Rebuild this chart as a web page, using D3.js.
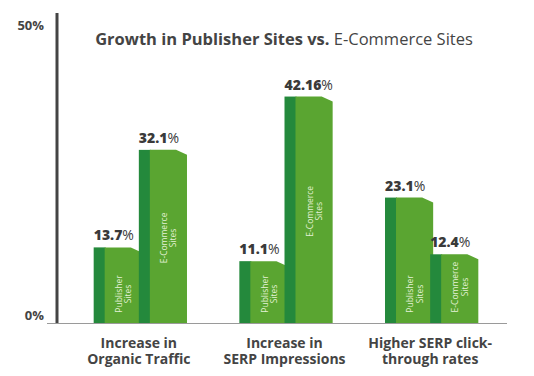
<!DOCTYPE html>
<meta charset="utf-8">
<head>
    <meta charset="utf-8">
    <title>Growth in Publisher Sites vs. E-Commerce Sites</title>
    <script src="https://d3js.org/d3.v7.min.js"></script>
    <style>
        html, body { margin: 0; padding: 0; background: #fff; }
        text { font-family: "Open Sans", sans-serif; }
        .title { font-size: 16.5px; fill: #444; }
        .val { font-size: 14px; fill: #3a3a3a; }
        .cat text { font-size: 14px; font-weight: 700; fill: #444; }
        .ylab text { font-size: 13px; font-weight: 700; fill: #444; }
        .inbar { font-size: 8.5px; fill: #e4f2d6; }
    </style>
</head>
<body>
<div id="chart"></div>
<script>
// ---- data ----
var categories = [["Increase in", "Organic Traffic"], ["Increase in", "SERP Impressions"], ["Higher SERP click-", "through rates"]];
var seriesNames = ["Publisher Sites", "E-Commerce Sites"];
var publisher = [13.7, 11.1, 23.1];
var ecommerce = [32.1, 42.16, 12.4];
var yTicks = [0, 50];

var W = 534, H = 376;
var base = 323;

var svg = d3.select("#chart").append("svg")
    .attr("width", W).attr("height", H);

// scales
var catKeys = categories.map(c => c.join(" "));
var x0 = d3.scaleBand().domain(catKeys).range([66, 503]).paddingInner(0.38).paddingOuter(0.19);
var x1 = d3.scaleBand().domain(seriesNames).range([0, x0.bandwidth()]);
var y = d3.scaleLinear().domain([0, 50]).range([base, 58]);
// label positions for the two axis ticks (infographic style)
var yLab = d3.scaleLinear().domain([0, 50]).range([315, 25]);

// title
var title = svg.append("text").attr("class", "title")
    .attr("x", 284).attr("y", 45).attr("text-anchor", "middle");
title.append("tspan").attr("font-weight", 700).text("Growth in Publisher Sites vs.");
title.append("tspan").attr("font-weight", 400).text(" E-Commerce Sites");

// y labels
svg.append("g").attr("class", "ylab")
    .attr("transform", "translate(44,0)")
    .call(d3.axisLeft(yLab).tickValues(yTicks).tickSize(0).tickPadding(0).tickFormat(d => d + "%"))
    .call(g => g.select(".domain").remove());

// bars
var rows = [];
catKeys.forEach(function(k, i) {
    rows.push({cat: k, s: seriesNames[0], v: publisher[i], idx: i});
    rows.push({cat: k, s: seriesNames[1], v: ecommerce[i], idx: i});
});

var side = 11, bw = x1.bandwidth() + 3;
var bars = svg.append("g").selectAll("g").data(rows).join("g")
    .attr("transform", d => "translate(" + (x0(d.cat) + x1(d.s)) + ",0)");

bars.append("rect")
    .attr("x", 0).attr("y", d => y(d.v) - 3)
    .attr("width", side + 1).attr("height", d => base - y(d.v) + 3)
    .attr("fill", "#24893c");

bars.append("path")
    .attr("fill", "#5aa531")
    .attr("d", function(d) {
        var t = y(d.v) - 3;
        return "M" + side + "," + t + "L" + (bw - 11) + "," + t + "L" + bw + "," + (t + 5) +
            "L" + bw + "," + base + "L" + side + "," + base + "Z";
    });

// value labels
var vl = bars.append("text").attr("class", "val")
    .attr("x", 0).attr("y", d => y(d.v) - 10);
vl.append("tspan").attr("font-weight", 800).text(d => d.v);
vl.append("tspan").attr("font-weight", 400).text("%");

// text inside bars
bars.each(function(d) {
    var g = d3.select(this);
    var words = d.s.split(" ");
    var cx = side + (bw - side) / 2;
    var len = d.s === seriesNames[0] ? 44 : 58;
    var cy = d.v > 30 ? (y(d.v) + base) / 2 : base - 7 - len / 2;
    var t = g.append("text").attr("class", "inbar")
        .attr("transform", "translate(" + cx + "," + cy + ") rotate(-90)")
        .attr("text-anchor", "middle");
    t.append("tspan").attr("x", 0).attr("dy", "-0.15em").text(words[0]);
    t.append("tspan").attr("x", 0).attr("dy", "1.1em").text(words[1]);
});

// axis lines
svg.append("line").attr("x1", 47).attr("x2", 507).attr("y1", base + 0.5).attr("y2", base + 0.5)
    .attr("stroke", "#9a9a9a").attr("stroke-width", 1.2);
svg.append("line").attr("x1", 57).attr("x2", 57).attr("y1", 13).attr("y2", base)
    .attr("stroke", "#444").attr("stroke-width", 3);

// category labels
var xa = svg.append("g").attr("class", "cat")
    .attr("transform", "translate(0," + base + ")")
    .call(d3.axisBottom(x0).tickSize(0).tickPadding(0));
xa.select(".domain").remove();
xa.selectAll(".tick text").each(function(d, i) {
    var t = d3.select(this).text(null).attr("y", null).attr("dy", null);
    t.append("tspan").attr("x", 0).attr("y", 25).text(categories[i][0]);
    t.append("tspan").attr("x", 0).attr("y", 41).text(categories[i][1]);
});
</script>
</body>
